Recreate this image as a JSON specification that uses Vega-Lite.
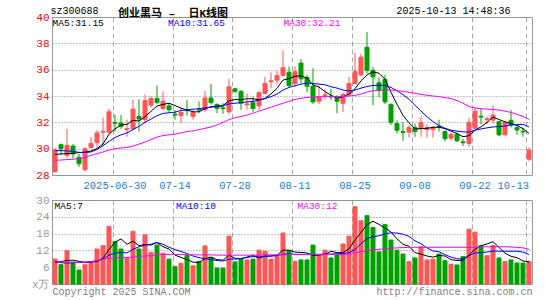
{
"$schema": "https://vega.github.io/schema/vega-lite/v6.json",
"background": "white",
"padding": {"left": 30, "top": 4, "right": 5, "bottom": 2},
"title": {"text": "创业黑马\u00a0–\u00a0\u00a0日K线图", "anchor": "start", "frame": "group", "dx": 66, "offset": -14, "font": "'Liberation Mono', 'Noto Sans CJK SC'", "fontSize": 11, "fontWeight": "bold", "color": "#000000"},
"config": {"view": {"stroke": "#999999"}, "font": "Liberation Mono"},
"spacing": 25,
"bounds": "flush",
"datasets": {"k": [
{"d":"2025-06-16","o":28.25,"h":30.05,"l":28.2,"c":29.9,"v":8.9,"m5":29.55,"m10":29.85,"m30":29.12,"vm5":7.7,"vm10":8.1,"vm30":7.8},
{"d":"2025-06-17","o":30.3,"h":30.4,"l":29.5,"c":30.0,"v":6.9,"m5":29.6,"m10":29.85,"m30":29.14,"vm5":8.0,"vm10":7.6,"vm30":7.8},
{"d":"2025-06-18","o":29.5,"h":31.5,"l":29.3,"c":30.25,"v":11.9,"m5":29.62,"m10":29.83,"m30":29.17,"vm5":8.4,"vm10":7.5,"vm30":7.8},
{"d":"2025-06-19","o":30.2,"h":30.35,"l":29.25,"c":29.6,"v":7.7,"m5":29.65,"m10":29.8,"m30":29.2,"vm5":8.5,"vm10":7.6,"vm30":7.8},
{"d":"2025-06-20","o":29.35,"h":29.6,"l":28.6,"c":28.85,"v":5.0,"m5":29.7,"m10":29.72,"m30":29.25,"vm5":8.1,"vm10":7.7,"vm30":7.8},
{"d":"2025-06-23","o":28.4,"h":30.1,"l":28.3,"c":30.0,"v":6.9,"m5":29.74,"m10":29.7,"m30":29.32,"vm5":7.7,"vm10":7.8,"vm30":7.8},
{"d":"2025-06-24","o":30.1,"h":30.9,"l":30.0,"c":30.4,"v":7.7,"m5":29.82,"m10":29.75,"m30":29.5,"vm5":7.8,"vm10":8.0,"vm30":7.9},
{"d":"2025-06-25","o":30.45,"h":31.4,"l":30.1,"c":31.2,"v":12.5,"m5":30.01,"m10":29.95,"m30":29.62,"vm5":8.0,"vm10":8.3,"vm30":8.3},
{"d":"2025-06-26","o":31.25,"h":32.35,"l":30.3,"c":31.32,"v":13.7,"m5":30.35,"m10":30.22,"m30":29.75,"vm5":9.2,"vm10":8.9,"vm30":8.8},
{"d":"2025-06-27","o":31.25,"h":33.05,"l":31.2,"c":32.8,"v":20.5,"m5":31.1,"m10":30.55,"m30":29.9,"vm5":12.3,"vm10":10.3,"vm30":9.2},
{"d":"2025-06-30","o":32.0,"h":32.6,"l":31.3,"c":31.93,"v":15.2,"m5":31.5,"m10":30.85,"m30":30.0,"vm5":14.9,"vm10":11.0,"vm30":9.3},
{"d":"2025-07-01","o":31.95,"h":32.55,"l":31.5,"c":31.7,"v":12.5,"m5":31.79,"m10":31.05,"m30":30.05,"vm5":16.1,"vm10":11.3,"vm30":9.4},
{"d":"2025-07-02","o":31.45,"h":32.2,"l":30.9,"c":31.52,"v":9.3,"m5":31.85,"m10":31.2,"m30":30.1,"vm5":14.2,"vm10":11.1,"vm30":9.5},
{"d":"2025-07-03","o":31.5,"h":33.7,"l":31.4,"c":33.0,"v":18.8,"m5":32.15,"m10":31.45,"m30":30.2,"vm5":15.3,"vm10":12.4,"vm30":9.6},
{"d":"2025-07-04","o":32.45,"h":33.75,"l":31.3,"c":32.25,"v":12.5,"m5":32.1,"m10":31.7,"m30":30.35,"vm5":13.7,"vm10":13.3,"vm30":9.9},
{"d":"2025-07-07","o":32.2,"h":34.1,"l":31.9,"c":33.65,"v":17.6,"m5":32.42,"m10":32.0,"m30":30.5,"vm5":14.1,"vm10":13.9,"vm30":10.0},
{"d":"2025-07-08","o":33.3,"h":34.0,"l":33.1,"c":33.8,"v":11.3,"m5":32.84,"m10":32.25,"m30":30.7,"vm5":13.9,"vm10":14.2,"vm30":10.1},
{"d":"2025-07-09","o":33.8,"h":34.8,"l":33.4,"c":33.5,"v":13.9,"m5":33.24,"m10":32.5,"m30":30.88,"vm5":14.8,"vm10":14.8,"vm30":10.4},
{"d":"2025-07-10","o":33.05,"h":34.35,"l":32.9,"c":33.6,"v":11.0,"m5":33.36,"m10":32.68,"m30":31.0,"vm5":13.3,"vm10":14.2,"vm30":10.6},
{"d":"2025-07-11","o":33.25,"h":33.45,"l":32.8,"c":32.95,"v":8.9,"m5":33.45,"m10":32.73,"m30":31.05,"vm5":12.5,"vm10":13.1,"vm30":10.5},
{"d":"2025-07-14","o":32.62,"h":32.95,"l":32.2,"c":32.55,"v":6.2,"m5":33.28,"m10":32.77,"m30":31.1,"vm5":10.3,"vm10":12.3,"vm30":10.5},
{"d":"2025-07-15","o":32.5,"h":33.05,"l":31.95,"c":32.75,"v":7.4,"m5":33.07,"m10":32.9,"m30":31.2,"vm5":9.5,"vm10":11.6,"vm30":10.5},
{"d":"2025-07-16","o":32.95,"h":33.7,"l":32.5,"c":32.88,"v":10.2,"m5":32.94,"m10":32.95,"m30":31.3,"vm5":8.7,"vm10":10.9,"vm30":10.5},
{"d":"2025-07-17","o":32.45,"h":32.95,"l":32.2,"c":32.75,"v":6.5,"m5":32.8,"m10":33.0,"m30":31.35,"vm5":7.8,"vm10":10.0,"vm30":10.4},
{"d":"2025-07-18","o":33.0,"h":33.6,"l":32.7,"c":32.93,"v":8.1,"m5":32.8,"m10":33.03,"m30":31.45,"vm5":7.7,"vm10":9.4,"vm30":10.4},
{"d":"2025-07-21","o":32.95,"h":34.4,"l":32.8,"c":33.85,"v":13.6,"m5":33.04,"m10":33.1,"m30":31.55,"vm5":9.1,"vm10":9.0,"vm30":10.4},
{"d":"2025-07-22","o":33.85,"h":34.9,"l":33.35,"c":33.5,"v":9.5,"m5":33.19,"m10":33.15,"m30":31.65,"vm5":9.6,"vm10":8.7,"vm30":10.4},
{"d":"2025-07-23","o":33.35,"h":33.45,"l":32.7,"c":33.05,"v":5.7,"m5":33.22,"m10":33.2,"m30":31.8,"vm5":8.7,"vm10":8.4,"vm30":10.3},
{"d":"2025-07-24","o":33.1,"h":33.45,"l":32.65,"c":33.03,"v":5.7,"m5":33.28,"m10":33.25,"m30":32.0,"vm5":8.5,"vm10":8.2,"vm30":10.3},
{"d":"2025-07-25","o":32.8,"h":35.3,"l":32.6,"c":34.7,"v":17.1,"m5":33.63,"m10":33.4,"m30":32.2,"vm5":10.3,"vm10":8.9,"vm30":10.3},
{"d":"2025-07-28","o":34.55,"h":34.6,"l":34.25,"c":34.35,"v":7.9,"m5":33.73,"m10":33.45,"m30":32.35,"vm5":9.2,"vm10":8.9,"vm30":10.3},
{"d":"2025-07-29","o":34.35,"h":34.45,"l":32.95,"c":33.45,"v":8.8,"m5":33.72,"m10":33.5,"m30":32.45,"vm5":9.0,"vm10":9.1,"vm30":10.3},
{"d":"2025-07-30","o":33.33,"h":34.2,"l":32.95,"c":33.4,"v":8.6,"m5":33.79,"m10":33.55,"m30":32.55,"vm5":9.6,"vm10":9.5,"vm30":10.3},
{"d":"2025-07-31","o":33.5,"h":33.95,"l":32.8,"c":33.05,"v":8.9,"m5":33.79,"m10":33.6,"m30":32.7,"vm5":10.3,"vm10":9.8,"vm30":10.3},
{"d":"2025-08-01","o":33.25,"h":34.35,"l":32.95,"c":34.25,"v":12.1,"m5":33.7,"m10":33.68,"m30":32.85,"vm5":9.3,"vm10":9.6,"vm30":10.3},
{"d":"2025-08-04","o":34.2,"h":35.45,"l":34.1,"c":34.95,"v":11.7,"m5":33.82,"m10":33.8,"m30":33.0,"vm5":10.0,"vm10":9.8,"vm30":10.4},
{"d":"2025-08-05","o":35.08,"h":35.8,"l":34.6,"c":35.15,"v":8.9,"m5":34.16,"m10":33.95,"m30":33.15,"vm5":10.0,"vm10":10.0,"vm30":10.4},
{"d":"2025-08-06","o":35.2,"h":35.9,"l":34.9,"c":35.55,"v":9.8,"m5":34.59,"m10":34.15,"m30":33.3,"vm5":10.3,"vm10":10.1,"vm30":10.4},
{"d":"2025-08-07","o":35.55,"h":37.45,"l":35.5,"c":36.15,"v":18.2,"m5":35.21,"m10":34.45,"m30":33.45,"vm5":12.1,"vm10":10.7,"vm30":10.4},
{"d":"2025-08-08","o":35.8,"h":36.25,"l":34.65,"c":34.8,"v":11.9,"m5":35.32,"m10":34.65,"m30":33.6,"vm5":12.1,"vm10":10.7,"vm30":10.5},
{"d":"2025-08-11","o":34.95,"h":36.25,"l":34.7,"c":35.85,"v":8.1,"m5":35.5,"m10":34.78,"m30":33.75,"vm5":11.4,"vm10":10.6,"vm30":10.5},
{"d":"2025-08-12","o":36.5,"h":36.8,"l":34.95,"c":35.3,"v":8.6,"m5":35.53,"m10":34.9,"m30":33.82,"vm5":11.3,"vm10":10.6,"vm30":10.5},
{"d":"2025-08-13","o":35.4,"h":35.6,"l":34.3,"c":34.75,"v":8.6,"m5":35.37,"m10":34.98,"m30":33.88,"vm5":11.1,"vm10":10.6,"vm30":10.5},
{"d":"2025-08-14","o":34.75,"h":36.1,"l":33.4,"c":33.55,"v":13.9,"m5":34.85,"m10":34.95,"m30":33.92,"vm5":10.2,"vm10":10.6,"vm30":10.5},
{"d":"2025-08-15","o":33.6,"h":34.8,"l":33.4,"c":33.95,"v":10.1,"m5":34.68,"m10":34.9,"m30":33.94,"vm5":10.3,"vm10":10.6,"vm30":10.5},
{"d":"2025-08-18","o":34.03,"h":34.45,"l":33.75,"c":34.1,"v":12.1,"m5":34.33,"m10":34.85,"m30":33.95,"vm5":10.6,"vm10":10.7,"vm30":10.5},
{"d":"2025-08-19","o":34.0,"h":34.55,"l":33.7,"c":33.93,"v":9.3,"m5":34.06,"m10":34.7,"m30":33.95,"vm5":11.7,"vm10":10.7,"vm30":10.5},
{"d":"2025-08-20","o":33.8,"h":34.05,"l":32.7,"c":33.6,"v":10.4,"m5":33.83,"m10":34.6,"m30":33.96,"vm5":11.2,"vm10":10.8,"vm30":10.5},
{"d":"2025-08-21","o":33.45,"h":34.3,"l":32.8,"c":34.1,"v":14.3,"m5":33.94,"m10":34.45,"m30":33.97,"vm5":11.2,"vm10":10.9,"vm30":10.5},
{"d":"2025-08-22","o":34.1,"h":35.45,"l":34.0,"c":34.95,"v":17.1,"m5":34.14,"m10":34.38,"m30":34.0,"vm5":12.6,"vm10":11.2,"vm30":10.7},
{"d":"2025-08-25","o":34.95,"h":37.3,"l":34.9,"c":35.85,"v":27.6,"m5":34.55,"m10":34.45,"m30":34.05,"vm5":15.7,"vm10":12.3,"vm30":11.2},
{"d":"2025-08-26","o":35.6,"h":37.2,"l":35.5,"c":36.95,"v":22.6,"m5":35.15,"m10":34.6,"m30":34.15,"vm5":18.4,"vm10":14.4,"vm30":11.6},
{"d":"2025-08-27","o":37.7,"h":38.85,"l":35.7,"c":35.95,"v":24.4,"m5":35.6,"m10":34.72,"m30":34.3,"vm5":21.2,"vm10":16.2,"vm30":11.9},
{"d":"2025-08-28","o":35.95,"h":36.2,"l":33.3,"c":35.45,"v":20.2,"m5":35.83,"m10":34.8,"m30":34.4,"vm5":22.4,"vm10":16.9,"vm30":12.2},
{"d":"2025-08-29","o":35.0,"h":35.4,"l":33.9,"c":34.45,"v":11.5,"m5":35.73,"m10":34.82,"m30":34.42,"vm5":21.3,"vm10":17.2,"vm30":12.4},
{"d":"2025-09-01","o":35.25,"h":35.6,"l":33.4,"c":33.55,"v":21.2,"m5":35.27,"m10":34.8,"m30":34.45,"vm5":20.0,"vm10":17.9,"vm30":12.6},
{"d":"2025-09-02","o":33.35,"h":33.45,"l":31.8,"c":32.0,"v":15.7,"m5":34.28,"m10":34.65,"m30":34.45,"vm5":18.6,"vm10":18.3,"vm30":12.8},
{"d":"2025-09-03","o":31.9,"h":32.15,"l":31.15,"c":31.4,"v":12.1,"m5":33.37,"m10":34.4,"m30":34.4,"vm5":16.1,"vm10":18.2,"vm30":12.9},
{"d":"2025-09-04","o":31.3,"h":32.0,"l":30.6,"c":31.23,"v":10.7,"m5":32.53,"m10":34.1,"m30":34.35,"vm5":14.2,"vm10":17.8,"vm30":13.0},
{"d":"2025-09-05","o":31.25,"h":31.8,"l":30.85,"c":31.6,"v":8.0,"m5":31.96,"m10":33.75,"m30":34.28,"vm5":13.5,"vm10":17.0,"vm30":13.1},
{"d":"2025-09-08","o":31.6,"h":31.9,"l":30.9,"c":31.3,"v":9.3,"m5":31.51,"m10":33.3,"m30":34.2,"vm5":11.2,"vm10":15.4,"vm30":13.1},
{"d":"2025-09-09","o":31.55,"h":32.45,"l":30.9,"c":32.0,"v":13.3,"m5":31.51,"m10":32.85,"m30":34.12,"vm5":10.7,"vm10":14.4,"vm30":13.1},
{"d":"2025-09-10","o":31.45,"h":31.85,"l":30.85,"c":31.6,"v":8.6,"m5":31.55,"m10":32.43,"m30":34.05,"vm5":10.0,"vm10":12.9,"vm30":13.1},
{"d":"2025-09-11","o":31.45,"h":31.75,"l":30.85,"c":31.6,"v":8.9,"m5":31.62,"m10":32.05,"m30":34.0,"vm5":9.6,"vm10":11.8,"vm30":13.1},
{"d":"2025-09-12","o":31.7,"h":32.2,"l":31.3,"c":31.63,"v":10.7,"m5":31.63,"m10":31.75,"m30":33.95,"vm5":10.2,"vm10":11.5,"vm30":13.1},
{"d":"2025-09-15","o":31.3,"h":31.4,"l":30.55,"c":30.75,"v":8.3,"m5":31.52,"m10":31.55,"m30":33.88,"vm5":10.0,"vm10":10.5,"vm30":13.1},
{"d":"2025-09-16","o":30.8,"h":31.15,"l":30.6,"c":31.1,"v":7.1,"m5":31.34,"m10":31.4,"m30":33.8,"vm5":8.7,"vm10":9.6,"vm30":13.1},
{"d":"2025-09-17","o":31.1,"h":31.25,"l":30.5,"c":30.6,"v":6.8,"m5":31.14,"m10":31.33,"m30":33.65,"vm5":8.4,"vm10":9.0,"vm30":13.1},
{"d":"2025-09-18","o":30.52,"h":30.75,"l":30.2,"c":30.45,"v":9.8,"m5":30.91,"m10":31.28,"m30":33.45,"vm5":8.5,"vm10":9.0,"vm30":13.1},
{"d":"2025-09-19","o":30.4,"h":32.3,"l":30.15,"c":32.0,"v":19.6,"m5":30.98,"m10":31.25,"m30":33.2,"vm5":10.3,"vm10":10.1,"vm30":13.1},
{"d":"2025-09-22","o":31.55,"h":33.1,"l":31.5,"c":32.85,"v":18.5,"m5":31.4,"m10":31.4,"m30":33.1,"vm5":12.4,"vm10":11.1,"vm30":13.1},
{"d":"2025-09-23","o":32.47,"h":33.05,"l":31.85,"c":32.4,"v":13.7,"m5":31.66,"m10":31.5,"m30":33.03,"vm5":13.7,"vm10":11.2,"vm30":13.3},
{"d":"2025-09-24","o":32.2,"h":32.45,"l":31.85,"c":32.27,"v":10.1,"m5":31.99,"m10":31.58,"m30":33.0,"vm5":14.3,"vm10":11.4,"vm30":13.3},
{"d":"2025-09-25","o":32.17,"h":33.3,"l":31.95,"c":32.55,"v":13.7,"m5":32.4,"m10":31.65,"m30":32.97,"vm5":15.1,"vm10":11.8,"vm30":13.3},
{"d":"2025-09-26","o":32.05,"h":32.1,"l":30.95,"c":31.05,"v":9.3,"m5":32.21,"m10":31.68,"m30":32.93,"vm5":13.1,"vm10":11.7,"vm30":13.3},
{"d":"2025-09-29","o":31.05,"h":32.1,"l":31.0,"c":32.0,"v":8.0,"m5":32.04,"m10":31.72,"m30":32.85,"vm5":11.0,"vm10":11.7,"vm30":13.3},
{"d":"2025-09-30","o":32.15,"h":32.93,"l":31.6,"c":31.8,"v":8.6,"m5":31.91,"m10":31.8,"m30":32.75,"vm5":9.9,"vm10":11.7,"vm30":13.2},
{"d":"2025-10-09","o":31.6,"h":31.8,"l":31.05,"c":31.42,"v":7.5,"m5":31.77,"m10":31.82,"m30":32.6,"vm5":9.4,"vm10":11.7,"vm30":13.1},
{"d":"2025-10-10","o":31.32,"h":31.6,"l":30.9,"c":31.27,"v":7.5,"m5":31.52,"m10":31.85,"m30":32.45,"vm5":8.2,"vm10":11.4,"vm30":12.9},
{"d":"2025-10-13","o":29.2,"h":30.1,"l":29.05,"c":29.9,"v":8.0,"m5":31.15,"m10":31.65,"m30":32.21,"vm5":7.9,"vm10":10.5,"vm30":12.4}
]},
"resolve": {"scale": {"color": "independent", "x": "independent"}, "legend": {"color": "independent"}},
"vconcat": [
{
 "width": 480, "height": 158,
 "data": {"name": "k"},
 "encoding": {
  "x": {"field": "d", "type": "ordinal", "sort": "ascending",
   "scale": {"type": "band", "paddingInner": 0.3333, "paddingOuter": 0.1667},
   "axis": {"values": ["2025-06-30","2025-07-14","2025-07-28","2025-08-11","2025-08-25","2025-09-08","2025-09-22","2025-10-13"],
    "bandPosition": 0, "grid": true, "gridDash": [5,3], "gridColor": "#aaaaaa", "gridOpacity": 1,
    "ticks": false, "domain": false, "labelAngle": 0, "labelColor": "#1a7fd0", "labelFont": "Liberation Mono", "labelFontSize": 10.5, "labelPadding": 5, "labelFlush": 10, "labelOverlap": false,
    "labelExpr": "datum.value == '2025-06-30' ? datum.value : slice(datum.value, 5)",
    "title": "2025-10-13 14:48:36", "titleX": 458, "titleY": -165, "titleAlign": "right", "titleBaseline": "middle", "titleAnchor": null,
    "titleFont": "Liberation Mono", "titleFontSize": 10, "titleFontWeight": "normal", "titleColor": "#000000"}},
  "y": {"type": "quantitative", "title": "sz300688", "scale": {"domain": [28, 40], "zero": false, "nice": false},
   "axis": {"values": [28,30,32,34,36,38,40], "grid": true, "gridDash": [1,2], "gridColor": "#888888", "ticks": false, "domain": false,
    "labelColor": "#ff0000", "labelFont": "Liberation Mono", "labelFontSize": 11, "labelPadding": 3, "labelOverlap": false,
    "titleAngle": 0, "titleX": -2, "titleY": -7, "titleAlign": "left", "titleBaseline": "middle", "titleAnchor": null,
    "titleFont": "Liberation Mono", "titleFontSize": 10, "titleFontWeight": "normal", "titleColor": "#000000"}}
 },
 "layer": [
  {"mark": {"type": "rule", "strokeWidth": 1},
   "encoding": {
    "y": {"field": "l", "type": "quantitative", "title": "sz300688", "scale": {"domain": [28, 40], "zero": false, "nice": false},
     "axis": {"values": [28,30,32,34,36,38,40], "grid": true, "gridDash": [1,2], "gridColor": "#888888", "ticks": false, "domain": false,
      "labelColor": "#ff0000", "labelFont": "Liberation Mono", "labelFontSize": 11, "labelPadding": 3, "labelOverlap": false,
      "titleAngle": 0, "titleX": -2, "titleY": -7, "titleAlign": "left", "titleBaseline": "middle", "titleAnchor": null,
      "titleFont": "Liberation Mono", "titleFontSize": 10, "titleFontWeight": "normal", "titleColor": "#000000"}},
    "y2": {"field": "h"},
    "color": {"condition": {"test": "datum.c >= datum.o", "value": "#ff5555"}, "value": "#00a000"}
   }},
  {"mark": {"type": "bar", "strokeWidth": 1},
   "encoding": {
    "y": {"field": "o", "type": "quantitative", "title": "sz300688", "scale": {"domain": [28, 40], "zero": false, "nice": false},
     "axis": {"values": [28,30,32,34,36,38,40], "grid": true, "gridDash": [1,2], "gridColor": "#888888", "ticks": false, "domain": false,
      "labelColor": "#ff0000", "labelFont": "Liberation Mono", "labelFontSize": 11, "labelPadding": 3, "labelOverlap": false,
      "titleAngle": 0, "titleX": -2, "titleY": -7, "titleAlign": "left", "titleBaseline": "middle", "titleAnchor": null,
      "titleFont": "Liberation Mono", "titleFontSize": 10, "titleFontWeight": "normal", "titleColor": "#000000"}},
    "y2": {"field": "c"},
    "fill": {"condition": {"test": "datum.c >= datum.o", "value": "#ff5555"}, "value": "#00a000"},
    "stroke": {"condition": {"test": "datum.c >= datum.o", "value": "#ff5555"}, "value": "#00a000"}
   }},
  {"transform": [{"fold": ["m5", "m10", "m30"], "as": ["ma", "val"]}],
   "mark": {"type": "line", "strokeWidth": 1},
   "encoding": {
    "y": {"field": "val", "type": "quantitative", "title": "sz300688", "scale": {"domain": [28, 40], "zero": false, "nice": false},
     "axis": {"values": [28,30,32,34,36,38,40], "grid": true, "gridDash": [1,2], "gridColor": "#888888", "ticks": false, "domain": false,
      "labelColor": "#ff0000", "labelFont": "Liberation Mono", "labelFontSize": 11, "labelPadding": 3, "labelOverlap": false,
      "titleAngle": 0, "titleX": -2, "titleY": -7, "titleAlign": "left", "titleBaseline": "middle", "titleAnchor": null,
      "titleFont": "Liberation Mono", "titleFontSize": 10, "titleFontWeight": "normal", "titleColor": "#000000"}},
    "color": {"field": "ma", "type": "nominal", "scale": {"domain": ["m5","m10","m30"], "range": ["#000000","#0000ff","#ff00ff"]},
     "legend": {"orient": "none", "legendX": -9, "legendY": 1, "direction": "horizontal", "columns": 3, "gridAlign": "all", "columnPadding": 48.5,
      "symbolSize": 0, "symbolStrokeWidth": 0, "symbolOpacity": 0, "labelOffset": 0, "title": null,
      "labelFont": "Liberation Mono", "labelFontSize": 9.5,
      "labelExpr": "datum.value == 'm5' ? 'MA5:31.15' : datum.value == 'm10' ? 'MA10:31.65' : 'MA30:32.21'",
      "encode": {"labels": {"update": {"fill": [{"test": "datum.value === 'm10'", "value": "#0000ff"}, {"test": "datum.value === 'm30'", "value": "#ff00ff"}, {"value": "#000000"}]}}}}}
   }}
 ]
},
{
 "width": 480, "height": 84,
 "data": {"name": "k"},
 "encoding": {
  "x": {"field": "d", "type": "ordinal", "sort": "ascending",
   "scale": {"type": "band", "paddingInner": 0.3333, "paddingOuter": 0.1667},
   "axis": {"values": ["2025-06-30","2025-07-14","2025-07-28","2025-08-11","2025-08-25","2025-09-08","2025-09-22","2025-10-13"],
    "bandPosition": 0, "grid": true, "gridDash": [5,3], "gridColor": "#aaaaaa", "gridOpacity": 1,
    "ticks": false, "domain": false, "labels": false,
    "title": "Copyright 2025 SINA.COM\u00a0\u00a0\u00a0\u00a0\u00a0\u00a0\u00a0\u00a0\u00a0\u00a0\u00a0\u00a0\u00a0\u00a0\u00a0\u00a0\u00a0\u00a0\u00a0\u00a0\u00a0\u00a0\u00a0\u00a0\u00a0\u00a0\u00a0\u00a0\u00a0\u00a0\u00a0http://finance.sina.com.cn",
    "titleAnchor": "start", "titleAlign": "left", "titlePadding": 2,
    "titleFont": "Liberation Mono", "titleFontSize": 10, "titleFontWeight": "normal", "titleColor": "#808080"}}
 },
 "layer": [
  {"mark": {"type": "bar", "strokeWidth": 1},
   "encoding": {
    "y": {"field": "v", "type": "quantitative", "title": null, "scale": {"domain": [0, 30], "nice": false},
     "axis": {"values": [0,6,12,18,24,30], "grid": true, "gridDash": [1,2], "gridColor": "#888888", "ticks": false, "domain": false,
      "labelColor": "#999999", "labelFont": "Liberation Mono", "labelFontSize": 11, "labelPadding": 3, "labelOverlap": false,
      "labelExpr": "datum.value == 0 ? 'x万' : datum.label"}},
    "fill": {"condition": {"test": "datum.c >= datum.o", "value": "#ff5555"}, "value": "#00a000"},
    "stroke": {"condition": {"test": "datum.c >= datum.o", "value": "#ff5555"}, "value": "#00a000"}
   }},
  {"transform": [{"fold": ["vm5", "vm10", "vm30"], "as": ["vma", "vval"]}],
   "mark": {"type": "line", "strokeWidth": 1},
   "encoding": {
    "y": {"field": "vval", "type": "quantitative", "title": null, "scale": {"domain": [0, 30], "nice": false},
     "axis": {"values": [0,6,12,18,24,30], "grid": true, "gridDash": [1,2], "gridColor": "#888888", "ticks": false, "domain": false,
      "labelColor": "#999999", "labelFont": "Liberation Mono", "labelFontSize": 11, "labelPadding": 3, "labelOverlap": false,
      "labelExpr": "datum.value == 0 ? 'x万' : datum.label"}},
    "color": {"field": "vma", "type": "nominal", "scale": {"domain": ["vm5","vm10","vm30"], "range": ["#000000","#0000ff","#ff00ff"]},
     "legend": {"orient": "none", "legendX": -7, "legendY": 1, "direction": "horizontal", "columns": 3, "gridAlign": "all", "columnPadding": 71.5,
      "symbolSize": 0, "symbolStrokeWidth": 0, "symbolOpacity": 0, "labelOffset": 0, "title": null,
      "labelFont": "Liberation Mono", "labelFontSize": 9.5,
      "labelExpr": "datum.value == 'vm5' ? 'MA5:7' : datum.value == 'vm10' ? 'MA10:10' : 'MA30:12'",
      "encode": {"labels": {"update": {"fill": [{"test": "datum.value === 'vm10'", "value": "#0000ff"}, {"test": "datum.value === 'vm30'", "value": "#ff00ff"}, {"value": "#000000"}]}}}}}
   }}
 ]
}
]
}
